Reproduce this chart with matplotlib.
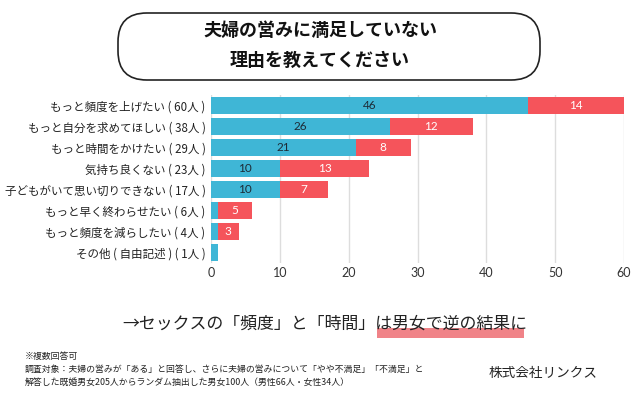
import matplotlib
matplotlib.use("Agg")
import matplotlib.pyplot as plt
from matplotlib.patches import FancyBboxPatch, Rectangle

plt.rcParams['font.family'] = ['Noto Sans CJK JP', 'DejaVu Sans']

categories = ["もっと頻度を上げたい ( 60人 )", "もっと自分を求めてほしい ( 38人 )", "もっと時間をかけたい ( 29人 )",
              "気持ち良くない ( 23人 )", "子どもがいて思い切りできない ( 17人 )", "もっと早く終わらせたい ( 6人 )",
              "もっと頻度を減らしたい ( 4人 )", "その他 ( 自由記述 ) ( 1人 )"]
male = [46, 26, 21, 10, 10, 1, 1, 1]
female = [14, 12, 8, 13, 7, 5, 3, 0]
xticks = [0, 10, 20, 30, 40, 50, 60]

BLUE = "#3fb6d6"
RED = "#f5545b"

fig = plt.figure(figsize=(6.4, 3.98), dpi=100)
ax = fig.add_axes([211/640, 1-263/398, 413/640, 168/398])

y = list(range(len(categories)))
ax.barh(y, male, height=0.84, color=BLUE, zorder=2)
ax.barh(y, female, left=male, height=0.84, color=RED, zorder=2)
for i, (m, f) in enumerate(zip(male, female)):
    if m >= 5:
        ax.text(m/2, i, str(m), ha='center', va='center', fontsize=8.5, color="#1d2b36",
                family=['Lato', 'DejaVu Sans'], zorder=3)
    if f >= 3:
        ax.text(m + f/2, i, str(f), ha='center', va='center', fontsize=8.5, color="white",
                family=['Lato', 'DejaVu Sans'], zorder=3)

ax.set_ylim(len(categories)-0.5, -0.5)
ax.set_xlim(0, 60)
ax.set_xticks(xticks)
ax.set_xticklabels([str(t) for t in xticks], family=['Lato', 'DejaVu Sans'], fontsize=9, color="#333333")
ax.set_yticks(y)
ax.set_yticklabels(categories, fontsize=8.3, color="#222222")
ax.tick_params(length=0, pad=4)
ax.tick_params(axis='x', pad=3)
for s in ax.spines.values():
    s.set_visible(False)
ax.grid(axis='x', color="#dddddd", linewidth=1, zorder=0)
ax.set_axisbelow(True)

# title box
box = FancyBboxPatch((118/640, 1-80/398), 422/640, 67/398,
                     boxstyle="round,pad=0,rounding_size=0.045", transform=fig.transFigure,
                     facecolor="white", edgecolor="#222222", linewidth=1.2, mutation_aspect=640/398)
fig.patches.append(box)
fig.text(0.5, 1-30/398, "夫婦の営みに満足していない", ha='center', va='center', fontsize=13,
         fontweight='bold', color="#111111")
fig.text(0.5, 1-60/398, "理由を教えてください", ha='center', va='center', fontsize=13,
         fontweight='bold', color="#111111")

# subtitle with highlight
hl = Rectangle((377/640, 1-338/398), 147/640, 10/398, transform=fig.transFigure,
               facecolor="#ee6d73", alpha=0.85, edgecolor='none', zorder=0)
fig.patches.append(hl)
fig.text(325/640, 1-324/398, "→セックスの「頻度」と「時間」は男女で逆の結果に", ha='center', va='center',
         fontsize=12.2, color="#222222", zorder=2)

fig.text(25/640, 1-356/398, "※複数回答可", ha='left', va='center', fontsize=6.4, color="#222222")
fig.text(25/640, 1-369/398, "調査対象：夫婦の営みが「ある」と回答し、さらに夫婦の営みについて「やや不満足」「不満足」と",
         ha='left', va='center', fontsize=6.4, color="#222222")
fig.text(25/640, 1-382/398, "解答した既婚男女205人からランダム抽出した男女100人（男性66人・女性34人）",
         ha='left', va='center', fontsize=6.4, color="#222222")
fig.text(543/640, 1-373/398, "株式会社リンクス", ha='center', va='center', fontsize=9.8, color="#222222")

fig.savefig("out.png", dpi=100, facecolor="white")
